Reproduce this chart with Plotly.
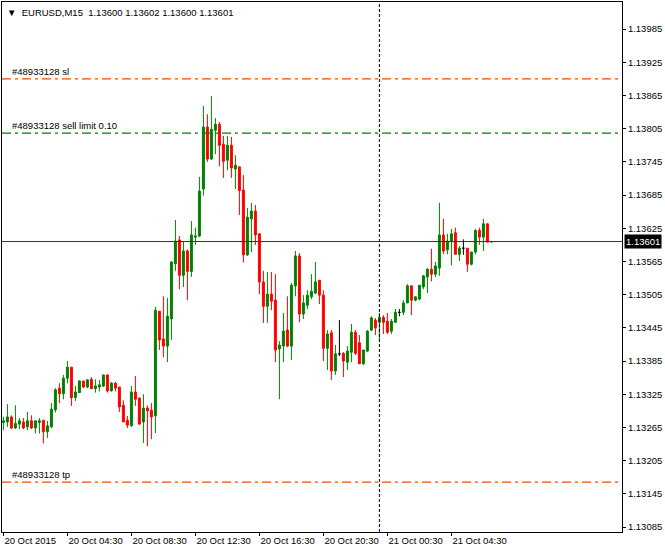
import pandas as pd
import plotly.graph_objects as go

symbol = "EURUSD,M15"
start_time = "2015-10-20 00:30"
bar_minutes = 15

open_ = [
    1.13274, 1.13275, 1.13284, 1.13264, 1.13271, 1.13275, 1.13266, 1.13277, 1.13264, 1.13274,
    1.13278, 1.13257, 1.13266, 1.13297, 1.13336, 1.13326, 1.13354, 1.13374, 1.13319, 1.13328,
    1.13349, 1.13338, 1.13352, 1.13335, 1.13338, 1.13340, 1.13360, 1.13331, 1.13345, 1.13338,
    1.13305, 1.13278, 1.13268, 1.13329, 1.13318, 1.13275, 1.13300, 1.13296, 1.13286, 1.13475,
    1.13425, 1.13412, 1.13461, 1.13561, 1.13604, 1.13540, 1.13584, 1.13547, 1.13609, 1.13611,
    1.13696, 1.13808, 1.13750, 1.13802, 1.13813, 1.13777, 1.13748, 1.13775, 1.13732, 1.13736,
    1.13694, 1.13577, 1.13642, 1.13656, 1.13615, 1.13528, 1.13484, 1.13506, 1.13495, 1.13407,
    1.13412, 1.13441, 1.13412, 1.13521, 1.13575, 1.13470, 1.13486, 1.13501, 1.13508, 1.13531,
    1.13504, 1.13408, 1.13436, 1.13367, 1.13398, 1.13399, 1.13383, 1.13401, 1.13437, 1.13418,
    1.13380, 1.13403, 1.13441, 1.13459, 1.13455, 1.13464, 1.13457, 1.13439, 1.13455, 1.13473,
    1.13473, 1.13490, 1.13521, 1.13495, 1.13497, 1.13519, 1.13537, 1.13551, 1.13542, 1.13553,
    1.13613, 1.13586, 1.13602, 1.13617, 1.13578, 1.13589, 1.13589, 1.13560, 1.13582, 1.13621,
    1.13609, 1.13633, 1.13600,
]
high = [
    1.13284, 1.13307, 1.13287, 1.13305, 1.13282, 1.13282, 1.13293, 1.13287, 1.13277, 1.13282,
    1.13278, 1.13277, 1.13309, 1.13336, 1.13345, 1.13360, 1.13385, 1.13374, 1.13340, 1.13350,
    1.13349, 1.13352, 1.13356, 1.13352, 1.13351, 1.13360, 1.13360, 1.13347, 1.13347, 1.13338,
    1.13314, 1.13286, 1.13340, 1.13358, 1.13319, 1.13325, 1.13305, 1.13309, 1.13483, 1.13475,
    1.13502, 1.13499, 1.13566, 1.13640, 1.13611, 1.13602, 1.13587, 1.13638, 1.13626, 1.13718,
    1.13846, 1.13831, 1.13864, 1.13824, 1.13817, 1.13792, 1.13792, 1.13790, 1.13757, 1.13736,
    1.13721, 1.13662, 1.13671, 1.13667, 1.13615, 1.13548, 1.13546, 1.13546, 1.13542, 1.13421,
    1.13472, 1.13502, 1.13526, 1.13584, 1.13580, 1.13504, 1.13513, 1.13542, 1.13564, 1.13531,
    1.13513, 1.13441, 1.13441, 1.13414, 1.13459, 1.13401, 1.13412, 1.13452, 1.13441, 1.13432,
    1.13405, 1.13441, 1.13466, 1.13463, 1.13472, 1.13468, 1.13472, 1.13461, 1.13479, 1.13479,
    1.13495, 1.13524, 1.13521, 1.13502, 1.13522, 1.13540, 1.13553, 1.13588, 1.13564, 1.13671,
    1.13642, 1.13615, 1.13624, 1.13626, 1.13593, 1.13605, 1.13589, 1.13582, 1.13624, 1.13626,
    1.13642, 1.13634, 1.13602,
]
low = [
    1.13260, 1.13266, 1.13262, 1.13262, 1.13262, 1.13262, 1.13260, 1.13262, 1.13254, 1.13254,
    1.13236, 1.13246, 1.13264, 1.13292, 1.13309, 1.13316, 1.13345, 1.13304, 1.13313, 1.13327,
    1.13336, 1.13336, 1.13335, 1.13328, 1.13330, 1.13338, 1.13328, 1.13330, 1.13330, 1.13293,
    1.13275, 1.13264, 1.13266, 1.13304, 1.13270, 1.13237, 1.13231, 1.13244, 1.13255, 1.13405,
    1.13392, 1.13383, 1.13423, 1.13548, 1.13515, 1.13519, 1.13495, 1.13537, 1.13595, 1.13609,
    1.13684, 1.13745, 1.13749, 1.13759, 1.13737, 1.13716, 1.13730, 1.13716, 1.13696, 1.13649,
    1.13563, 1.13575, 1.13582, 1.13595, 1.13506, 1.13454, 1.13454, 1.13477, 1.13383, 1.13316,
    1.13383, 1.13410, 1.13387, 1.13502, 1.13455, 1.13461, 1.13479, 1.13497, 1.13506, 1.13488,
    1.13385, 1.13369, 1.13351, 1.13360, 1.13394, 1.13356, 1.13369, 1.13383, 1.13396, 1.13380,
    1.13378, 1.13401, 1.13439, 1.13432, 1.13423, 1.13434, 1.13434, 1.13434, 1.13454, 1.13466,
    1.13468, 1.13490, 1.13468, 1.13493, 1.13495, 1.13515, 1.13508, 1.13529, 1.13537, 1.13539,
    1.13578, 1.13578, 1.13558, 1.13578, 1.13566, 1.13577, 1.13546, 1.13558, 1.13578, 1.13595,
    1.13584, 1.13600, 1.13600,
]
close = [
    1.13277, 1.13284, 1.13264, 1.13272, 1.13277, 1.13264, 1.13277, 1.13264, 1.13277, 1.13277,
    1.13257, 1.13268, 1.13298, 1.13333, 1.13326, 1.13354, 1.13374, 1.13319, 1.13329, 1.13349,
    1.13338, 1.13351, 1.13335, 1.13340, 1.13342, 1.13360, 1.13331, 1.13345, 1.13336, 1.13302,
    1.13275, 1.13269, 1.13329, 1.13316, 1.13271, 1.13300, 1.13295, 1.13284, 1.13477, 1.13423,
    1.13412, 1.13466, 1.13564, 1.13602, 1.13540, 1.13584, 1.13547, 1.13613, 1.13611, 1.13692,
    1.13808, 1.13750, 1.13804, 1.13813, 1.13775, 1.13746, 1.13775, 1.13734, 1.13739, 1.13693,
    1.13577, 1.13645, 1.13656, 1.13613, 1.13528, 1.13484, 1.13506, 1.13493, 1.13405, 1.13414,
    1.13439, 1.13412, 1.13522, 1.13575, 1.13470, 1.13490, 1.13504, 1.13511, 1.13528, 1.13504,
    1.13408, 1.13434, 1.13367, 1.13398, 1.13398, 1.13385, 1.13403, 1.13437, 1.13399, 1.13380,
    1.13405, 1.13439, 1.13463, 1.13445, 1.13464, 1.13455, 1.13437, 1.13457, 1.13473, 1.13473,
    1.13490, 1.13521, 1.13495, 1.13501, 1.13522, 1.13539, 1.13551, 1.13542, 1.13557, 1.13613,
    1.13584, 1.13602, 1.13615, 1.13578, 1.13589, 1.13589, 1.13560, 1.13582, 1.13621, 1.13609,
    1.13633, 1.13600, 1.13601,
]

order_id = "#48933128"
sl_price = 1.13895
sell_limit_price = 1.13797
sell_limit_lots = "0.10"
tp_price = 1.13166
bid_price = 1.13601

y_tick_values = [1.13085, 1.13145, 1.13205, 1.13265, 1.13325, 1.13385, 1.13445, 1.13505,
                 1.13565, 1.13625, 1.13685, 1.13745, 1.13805, 1.13865, 1.13925, 1.13985]
x_label_every = 16
y_range = [1.13076, 1.14034]

n = len(close)
assert len(open_) == n and len(high) == n and len(low) == n
times = pd.date_range(start_time, periods=n, freq=f"{bar_minutes}min")
idx = list(range(n))

x_tickvals = list(range(0, n, x_label_every))
x_ticktext = []
for k, i in enumerate(x_tickvals):
    t = times[i]
    x_ticktext.append(t.strftime("%d %b %Y") if k == 0 else t.strftime("%d %b %H:%M"))

sep_idx = next(i for i in range(1, n) if times[i].date() != times[i - 1].date())

FONT = "Liberation Sans, Arial, sans-serif"
FS = 9.5
UP, DOWN, DOJI = "#008000", "#FF0000", "#000000"

fig = go.Figure()

def add_group(sel, color):
    fig.add_trace(go.Candlestick(
        x=[idx[i] for i in sel],
        open=[open_[i] for i in sel], high=[high[i] for i in sel],
        low=[low[i] for i in sel], close=[close[i] for i in sel],
        increasing=dict(line=dict(color=color, width=1), fillcolor=color),
        decreasing=dict(line=dict(color=color, width=1), fillcolor=color),
        whiskerwidth=0, showlegend=False, hoverinfo="skip",
    ))

add_group([i for i in idx if close[i] > open_[i]], UP)
add_group([i for i in idx if close[i] < open_[i]], DOWN)
add_group([i for i in idx if close[i] == open_[i]], DOJI)

ORANGE = "#FF4500"
levels = [
    (sl_price, ORANGE, f"{order_id} sl"),
    (sell_limit_price, "#008000", f"{order_id} sell limit {sell_limit_lots}"),
    (tp_price, ORANGE, f"{order_id} tp"),
]
for price, color, label in levels:
    fig.add_shape(type="line", xref="paper", yref="y", x0=0, x1=1, y0=price, y1=price,
                  line=dict(color=color, width=1.3, dash="9px,4px,3px,4px"))
    fig.add_annotation(x=0.013, xref="paper", y=price, yref="y", text=label, showarrow=False,
                       xanchor="left", yanchor="bottom", yshift=0,
                       font=dict(family=FONT, size=FS, color="#000000"))

fig.add_shape(type="line", xref="paper", yref="y", x0=0, x1=1, y0=bid_price, y1=bid_price,
              line=dict(color="#005000", width=1))
fig.add_shape(type="line", xref="x", yref="paper", x0=sep_idx, x1=sep_idx, y0=0, y1=1,
              line=dict(color="#000000", width=1, dash="3px,2px"))

fig.add_annotation(x=1, xref="paper", y=bid_price, yref="y", text=f"{bid_price:.5f}",
                   showarrow=False, xanchor="left", yanchor="middle", xshift=2,
                   bgcolor="#000000", borderpad=1,
                   font=dict(family=FONT, size=FS, color="#FFFFFF"))

last = n - 1
header = (f"▼  {symbol}  {open_[last]:.5f} {high[last]:.5f} "
          f"{low[last]:.5f} {close[last]:.5f}")
fig.add_annotation(x=0.005, xref="paper", y=1, yref="paper", yshift=-10, text=header,
                   showarrow=False, xanchor="left", yanchor="middle",
                   font=dict(family=FONT, size=FS, color="#000000"))

fig.update_layout(
    width=665, height=549,
    margin=dict(l=2, r=43, t=2, b=17),
    paper_bgcolor="#FFFFFF", plot_bgcolor="#FFFFFF",
    boxgap=0.3,
    showlegend=False,
    font=dict(family=FONT, size=FS, color="#000000"),
    xaxis=dict(range=[-0.35, 154.65], rangeslider=dict(visible=False),
               tickmode="array", tickvals=x_tickvals, ticktext=x_ticktext,
               tickangle=0,
               ticks="outside", ticklen=3, tickcolor="#000000",
               ticklabelposition="outside right",
               showgrid=False, zeroline=False,
               showline=True, linecolor="#000000", linewidth=1, mirror=True,
               tickfont=dict(family=FONT, size=FS, color="#000000")),
    yaxis=dict(range=y_range, side="right",
               tickmode="array", tickvals=y_tick_values,
               ticktext=[f"{v:.5f}" for v in y_tick_values],
               ticks="outside", ticklen=3, tickcolor="#000000",
               showgrid=False, zeroline=False,
               showline=True, linecolor="#000000", linewidth=1, mirror=True,
               tickfont=dict(family=FONT, size=FS, color="#000000")),
)

fig.write_html("out.html", config={"displayModeBar": False},
               post_script="document.body.style.margin='0';")
